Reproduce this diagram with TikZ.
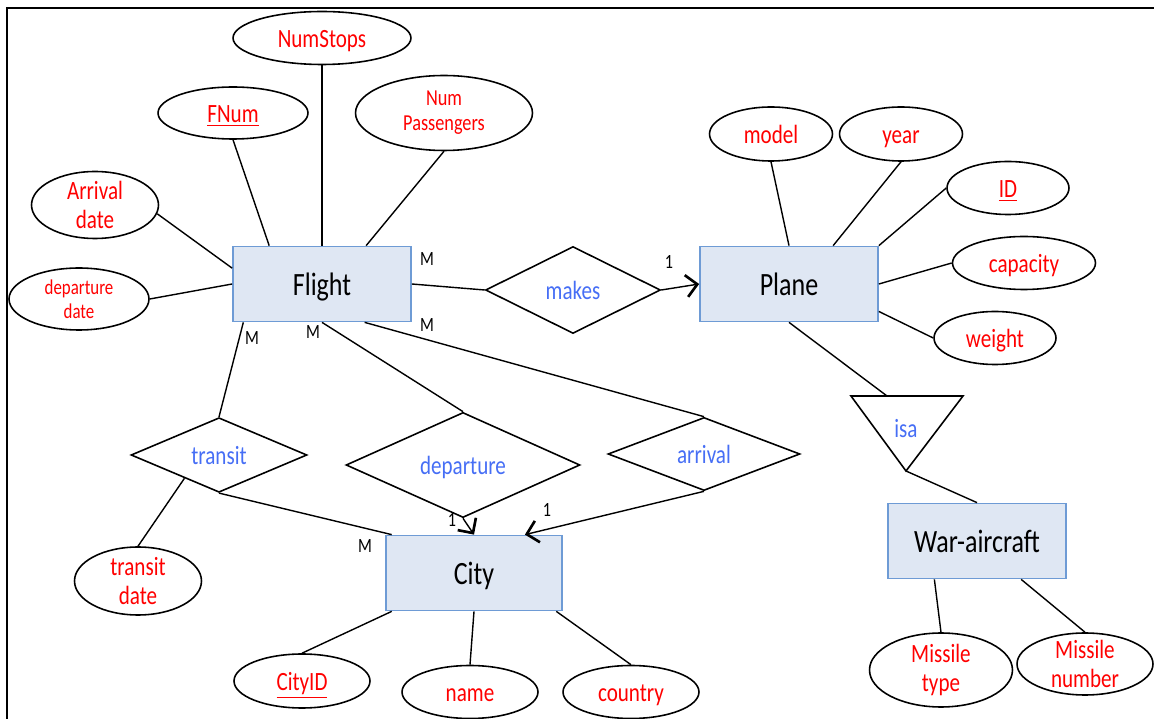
\documentclass[tikz,border=0pt]{standalone}
\usepackage{fontspec}
\setmainfont{Carlito}[FakeStretch=0.8]
\usetikzlibrary{arrows.meta,shapes.geometric}
\definecolor{attrred}{RGB}{255,0,0}
\definecolor{relblue}{RGB}{70,110,245}
\definecolor{entfill}{RGB}{223,231,243}
\definecolor{entdraw}{RGB}{110,155,213}
\tikzset{
    one line/.style = {
        text height = 11pt,
        text depth = 0pt,
        },
    entity/.style = {
        draw = entdraw,
        fill = entfill,
        line width = 1pt,
        minimum width = 3.56cm,
        minimum height = 1.5cm,
        text height = 13.5pt,
        text depth = 0pt,
        font = \fontsize{18.5}{22}\selectfont,
        },
    attr/.style = {
        ellipse,
        draw,
        line width = 0.9pt,
        text = attrred,
        inner xsep = 0pt,
        inner ysep = -4pt,
        align = center,
        font = \fontsize{15}{16}\selectfont,
        },
    attr small/.style = {
        font = \fontsize{13}{14.2}\selectfont,
        },
    attr tiny/.style = {
        font = \fontsize{12}{13.6}\selectfont,
        },
    rel/.style = {
        one line,
        diamond,
        draw,
        line width = 0.9pt,
        text = relblue,
        inner sep = 0pt,
        font = \fontsize{15}{17}\selectfont,
        },
    card/.style = {
        inner sep = 0pt,
        font = \fontsize{11.5}{13}\selectfont,
        },
    to one/.style = {
        -{Straight Barb[length=2.2mm,width=4.4mm,line width=1.5pt]},
        },
}

\begin{document}
\begin{tikzpicture}[x=0.02cm, y=-0.02cm, line width=0.8pt]
    \useasboundingbox (0,0) rectangle (1154,719);
    \draw[line width=1.6pt] (7,719) -- (7,8) -- (1154,8);

    % entities
    \node[entity] (flight) at (322,284) {Flight};
    \node[entity] (plane) at (789,284) {Plane};
    \node[entity, minimum width=3.52cm] (city) at (474,573) {City};
    \node[entity] (war) at (977,541) {War-aircraft};

    % attributes
    \node[attr, one line, minimum width=3.56cm, minimum height=1.06cm] (numstops) at (322,38) {NumStops};
    \node[attr, one line, minimum width=3cm, minimum height=1.04cm] (fnum) at (233,113) {\underline{FNum}};
    \node[attr, attr small, minimum width=3.54cm, minimum height=1.5cm] (numpass) at (444,113) {Num\\Passengers};
    \node[attr, minimum width=2.54cm, minimum height=1.34cm] (arrdate) at (95,205) {Arrival\\date};
    \node[attr, attr tiny, minimum width=2.8cm, minimum height=1.24cm] (depdate) at (79,299) {departure\\date};
    \node[attr, one line, minimum width=2.46cm, minimum height=1.08cm] (model) at (771,134) {model};
    \node[attr, one line, minimum width=2.46cm, minimum height=1.08cm] (year) at (901,134) {year};
    \node[attr, one line, minimum width=2.44cm, minimum height=1.06cm] (id) at (1008,188) {\underline{ID}};
    \node[attr, one line, minimum width=2.86cm, minimum height=1.06cm] (capacity) at (1024,263) {capacity};
    \node[attr, one line, minimum width=2.44cm, minimum height=1.06cm] (weight) at (995,338) {weight};
    \node[attr, minimum width=2.54cm, minimum height=1.36cm] (transdate) at (138,581) {transit\\date};
    \node[attr, one line, minimum width=2.72cm, minimum height=1.08cm] (cityid) at (302,681) {\underline{CityID}};
    \node[attr, one line, minimum width=2.72cm, minimum height=1.06cm] (name) at (470,692) {name};
    \node[attr, one line, minimum width=2.72cm, minimum height=1.06cm] (country) at (631,692) {country};
    \node[attr, minimum width=2.86cm, minimum height=1.48cm] (mtype) at (941,670) {Missile\\type};
    \node[attr, minimum width=2.72cm, minimum height=1.24cm] (mnumber) at (1085,664) {Missile\\number};

    % relationships
    \node[rel, minimum width=3.5cm, minimum height=1.74cm] (makes) at (573,290) {makes};
    \node[rel, minimum width=3.52cm, minimum height=1.42cm] (transit) at (219,455) {transit};
    \node[rel, minimum width=4.68cm, minimum height=1.44cm] (departure) at (463,465) {departure};
    \node[rel, minimum width=3.84cm, minimum height=1.32cm] (arrival) at (704,454) {arrival};

    % isa triangle
    \coordinate (isa left) at (851,396);
    \coordinate (isa right) at (963,396);
    \coordinate (isa apex) at (906,471);
    \coordinate (isa top) at (887,396);
    \draw[line width=0.9pt] (isa left) -- (isa right) -- (isa apex) -- cycle;
    \node[one line, text=relblue, font=\fontsize{15}{17}\selectfont] (isa) at (906,428) {isa};

    % cardinalities
    \node[card] (c1) at (427,259) {M};
    \node[card] (c2) at (669,262) {1};
    \node[card] (c3) at (427,325) {M};
    \node[card] (c4) at (252,338) {M};
    \node[card] (c5) at (313,332) {M};
    \node[card] (c6) at (365,546) {M};
    \node[card] (c7) at (452,520) {1};
    \node[card] (c8) at (547,510) {1};

    \path (flight.north) edge (numstops.south);
    \path (flight.144) edge (fnum.south);
    \path (flight.41) edge (numpass.south);
    \path (flight.170) edge (arrdate.-8);
    \path (flight.west) edge (depdate.east);
    \path (flight.east) edge (makes.west);
    \path (flight.206) edge (transit.north);
    \path (flight.south) edge (departure.north);
    \path (flight.318) edge (arrival.north);

    \path (plane.north) edge (model.south);
    \path (plane.41) edge (year.south);
    \path (plane.north east) edge (id.west);
    \path (plane.east) edge (capacity.west);
    \path (plane.-17) edge (weight.west);
    \path (plane.south) edge (isa top);
    \path (isa apex) edge (war.north);
    \path (war.222) edge (mtype.north);
    \path (war.319) edge (mnumber.north);

    \path (transit.south) edge (city.155);
    \path (transit.214) edge (transdate.north);
    \path (city.205) edge (cityid.north);
    \path (city.south) edge (name.north);
    \path (city.335) edge (country.north);

    \draw[to one] (makes.east) -- (plane.west);
    \draw[to one] (departure.south) -- (city.north);
    \draw[to one] (arrival.south) -- (city.37);
\end{tikzpicture}
\end{document}
